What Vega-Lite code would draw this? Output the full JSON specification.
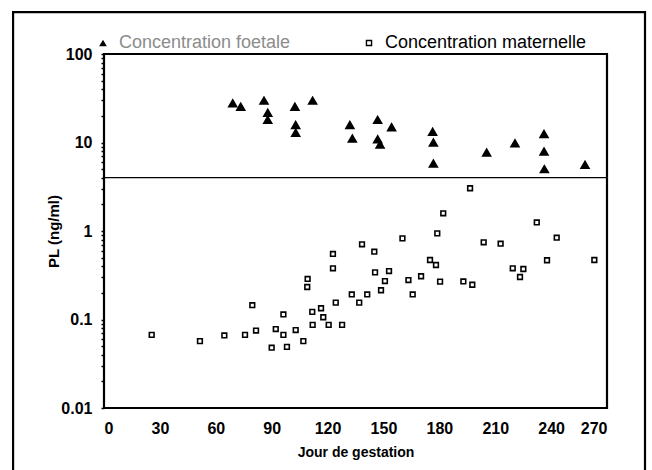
{
  "$schema": "https://vega.github.io/schema/vega-lite/v6.json",
  "width": 503,
  "height": 354,
  "autosize": "none",
  "padding": {"left": 104, "top": 54, "right": 45, "bottom": 62},
  "background": "white",
  "config": {
    "view": {"stroke": "black", "strokeWidth": 2.2},
    "font": "Liberation Sans Narrow, Liberation Sans, Arial",
    "legend": {"labelFont": "Liberation Sans, Arial", "labelFontSize": 18, "labelLimit": 400, "labelOffset": 7, "title": null}
  },
  "datasets": {
    "foetale": [
      {"jour": 69.1, "pl": 27.7, "serie": "Concentration foetale"},
      {"jour": 73.4, "pl": 25.4, "serie": "Concentration foetale"},
      {"jour": 85.9, "pl": 29.7, "serie": "Concentration foetale"},
      {"jour": 87.9, "pl": 21.7, "serie": "Concentration foetale"},
      {"jour": 87.9, "pl": 18, "serie": "Concentration foetale"},
      {"jour": 102.5, "pl": 25.4, "serie": "Concentration foetale"},
      {"jour": 102.9, "pl": 15.8, "serie": "Concentration foetale"},
      {"jour": 102.9, "pl": 12.9, "serie": "Concentration foetale"},
      {"jour": 112, "pl": 29.7, "serie": "Concentration foetale"},
      {"jour": 132, "pl": 15.8, "serie": "Concentration foetale"},
      {"jour": 133.3, "pl": 11.1, "serie": "Concentration foetale"},
      {"jour": 146.9, "pl": 18, "serie": "Concentration foetale"},
      {"jour": 154.4, "pl": 14.9, "serie": "Concentration foetale"},
      {"jour": 146.9, "pl": 10.9, "serie": "Concentration foetale"},
      {"jour": 148.2, "pl": 9.5, "serie": "Concentration foetale"},
      {"jour": 176.4, "pl": 13.2, "serie": "Concentration foetale"},
      {"jour": 176.8, "pl": 10, "serie": "Concentration foetale"},
      {"jour": 176.8, "pl": 5.8, "serie": "Concentration foetale"},
      {"jour": 205.4, "pl": 7.7, "serie": "Concentration foetale"},
      {"jour": 220.6, "pl": 9.8, "serie": "Concentration foetale"},
      {"jour": 236.2, "pl": 12.5, "serie": "Concentration foetale"},
      {"jour": 236.2, "pl": 7.9, "serie": "Concentration foetale"},
      {"jour": 236.4, "pl": 5.0, "serie": "Concentration foetale"},
      {"jour": 258.2, "pl": 5.6, "serie": "Concentration foetale"}
    ],
    "maternelle": [
      {"jour": 25.6, "pl": 0.067, "serie": "Concentration maternelle"},
      {"jour": 51.5, "pl": 0.057, "serie": "Concentration maternelle"},
      {"jour": 64.6, "pl": 0.066, "serie": "Concentration maternelle"},
      {"jour": 75.7, "pl": 0.067, "serie": "Concentration maternelle"},
      {"jour": 79.6, "pl": 0.145, "serie": "Concentration maternelle"},
      {"jour": 81.6, "pl": 0.075, "serie": "Concentration maternelle"},
      {"jour": 90, "pl": 0.048, "serie": "Concentration maternelle"},
      {"jour": 92.2, "pl": 0.078, "serie": "Concentration maternelle"},
      {"jour": 96.3, "pl": 0.067, "serie": "Concentration maternelle"},
      {"jour": 96.3, "pl": 0.114, "serie": "Concentration maternelle"},
      {"jour": 98.2, "pl": 0.049, "serie": "Concentration maternelle"},
      {"jour": 102.9, "pl": 0.076, "serie": "Concentration maternelle"},
      {"jour": 107, "pl": 0.057, "serie": "Concentration maternelle"},
      {"jour": 109.3, "pl": 0.287, "serie": "Concentration maternelle"},
      {"jour": 109.1, "pl": 0.233, "serie": "Concentration maternelle"},
      {"jour": 111.8, "pl": 0.122, "serie": "Concentration maternelle"},
      {"jour": 112, "pl": 0.087, "serie": "Concentration maternelle"},
      {"jour": 116.5, "pl": 0.134, "serie": "Concentration maternelle"},
      {"jour": 117.7, "pl": 0.106, "serie": "Concentration maternelle"},
      {"jour": 120.6, "pl": 0.087, "serie": "Concentration maternelle"},
      {"jour": 122.9, "pl": 0.55, "serie": "Concentration maternelle"},
      {"jour": 122.9, "pl": 0.379, "serie": "Concentration maternelle"},
      {"jour": 124.4, "pl": 0.155, "serie": "Concentration maternelle"},
      {"jour": 127.8, "pl": 0.087, "serie": "Concentration maternelle"},
      {"jour": 133, "pl": 0.192, "serie": "Concentration maternelle"},
      {"jour": 137, "pl": 0.155, "serie": "Concentration maternelle"},
      {"jour": 138.5, "pl": 0.707, "serie": "Concentration maternelle"},
      {"jour": 141.3, "pl": 0.192, "serie": "Concentration maternelle"},
      {"jour": 145.1, "pl": 0.584, "serie": "Concentration maternelle"},
      {"jour": 145.5, "pl": 0.341, "serie": "Concentration maternelle"},
      {"jour": 153, "pl": 0.353, "serie": "Concentration maternelle"},
      {"jour": 150.8, "pl": 0.272, "serie": "Concentration maternelle"},
      {"jour": 148.7, "pl": 0.214, "serie": "Concentration maternelle"},
      {"jour": 160.2, "pl": 0.826, "serie": "Concentration maternelle"},
      {"jour": 163.4, "pl": 0.279, "serie": "Concentration maternelle"},
      {"jour": 170.2, "pl": 0.308, "serie": "Concentration maternelle"},
      {"jour": 165.7, "pl": 0.192, "serie": "Concentration maternelle"},
      {"jour": 175, "pl": 0.47, "serie": "Concentration maternelle"},
      {"jour": 178.2, "pl": 0.413, "serie": "Concentration maternelle"},
      {"jour": 182.1, "pl": 1.585, "serie": "Concentration maternelle"},
      {"jour": 178.9, "pl": 0.94, "serie": "Concentration maternelle"},
      {"jour": 180.4, "pl": 0.268, "serie": "Concentration maternelle"},
      {"jour": 192.9, "pl": 0.269, "serie": "Concentration maternelle"},
      {"jour": 197.7, "pl": 0.247, "serie": "Concentration maternelle"},
      {"jour": 196.5, "pl": 3.04, "serie": "Concentration maternelle"},
      {"jour": 203.8, "pl": 0.745, "serie": "Concentration maternelle"},
      {"jour": 212.9, "pl": 0.719, "serie": "Concentration maternelle"},
      {"jour": 219.4, "pl": 0.379, "serie": "Concentration maternelle"},
      {"jour": 225.1, "pl": 0.372, "serie": "Concentration maternelle"},
      {"jour": 223.3, "pl": 0.302, "serie": "Concentration maternelle"},
      {"jour": 232.3, "pl": 1.25, "serie": "Concentration maternelle"},
      {"jour": 243, "pl": 0.84, "serie": "Concentration maternelle"},
      {"jour": 237.8, "pl": 0.467, "serie": "Concentration maternelle"},
      {"jour": 263.2, "pl": 0.47, "serie": "Concentration maternelle"}
    ],
    "seuil": [{"pl": 4}]
  },
  "layer": [
    {
      "data": {"name": "foetale"},
      "mark": {"type": "point", "shape": "triangle-up", "filled": true, "size": 62, "stroke": "black", "strokeWidth": 1.6, "opacity": 1},
      "encoding": {
        "x": {
          "field": "jour", "type": "quantitative",
          "scale": {"domain": [0, 270], "nice": false, "zero": false},
          "axis": {
            "title": "Jour de gestation",
            "values": [0, 30, 60, 90, 120, 150, 180, 210, 240, 270],
            "grid": false, "ticks": false, "domain": false,
            "labelFont": "Liberation Sans Narrow, Liberation Sans, Arial",
            "labelFontSize": 16, "labelFontWeight": "bold", "labelColor": "black",
            "labelPadding": 12,
            "titleFont": "Liberation Sans Narrow, Liberation Sans, Arial",
            "titleFontSize": 14, "titleFontWeight": "bold", "titleColor": "black",
            "titlePadding": 9
          }
        },
        "y": {
          "field": "pl", "type": "quantitative",
          "scale": {"type": "log", "domain": [0.01, 100], "nice": false},
          "axis": {
            "title": "PL  (ng/ml)",
            "values": [0.01, 0.02, 0.03, 0.04, 0.05, 0.06, 0.07, 0.08, 0.09, 0.1, 0.2, 0.3, 0.4, 0.5, 0.6, 0.7, 0.8, 0.9, 1, 2, 3, 4, 5, 6, 7, 8, 9, 10, 20, 30, 40, 50, 60, 70, 80, 90, 100],
            "format": "~g",
            "labelExpr": "indexof(['0.01','0.1','1','10','100'], datum.label) >= 0 ? datum.label : ''",
            "labelOverlap": false,
            "grid": false, "domain": false,
            "ticks": true, "tickSize": 3, "tickWidth": 1.5, "tickColor": "black",
            "labelFont": "Liberation Sans Narrow, Liberation Sans, Arial",
            "labelFontSize": 16, "labelFontWeight": "bold", "labelColor": "black",
            "labelPadding": 9,
            "titleFont": "Liberation Sans Narrow, Liberation Sans, Arial",
            "titleFontSize": 15, "titleFontWeight": "bold", "titleColor": "black",
            "titlePadding": -1
          }
        },
        "fill": {
          "field": "serie", "type": "nominal",
          "scale": {"domain": ["Concentration foetale"], "range": ["black"]},
          "legend": {
            "orient": "none", "legendX": -10, "legendY": -20,
            "labelColor": "#8c8c8c",
            "symbolType": "triangle-up", "symbolSize": 60, "symbolStrokeWidth": 0
          }
        }
      }
    },
    {
      "data": {"name": "maternelle"},
      "mark": {"type": "point", "shape": "square", "filled": false, "size": 22, "strokeWidth": 1.6, "opacity": 1},
      "encoding": {
        "x": {"field": "jour", "type": "quantitative"},
        "y": {"field": "pl", "type": "quantitative"},
        "stroke": {
          "field": "serie", "type": "nominal",
          "scale": {"domain": ["Concentration maternelle"], "range": ["black"]},
          "legend": {
            "orient": "none", "legendX": 256, "legendY": -20,
            "labelColor": "black",
            "symbolType": "square", "symbolSize": 26, "symbolStrokeWidth": 1.4
          }
        }
      }
    },
    {
      "data": {"name": "seuil"},
      "mark": {"type": "rule", "color": "black", "strokeWidth": 1.2},
      "encoding": {"y": {"field": "pl", "type": "quantitative"}}
    },
    {
      "data": {"values": [{}]},
      "mark": {"type": "rect", "filled": false, "stroke": "black", "strokeWidth": 2.2},
      "encoding": {
        "x": {"datum": -48.8},
        "x2": {"datum": 290.4},
        "y": {"datum": 298},
        "y2": {"datum": 0.0015}
      }
    }
  ]
}
